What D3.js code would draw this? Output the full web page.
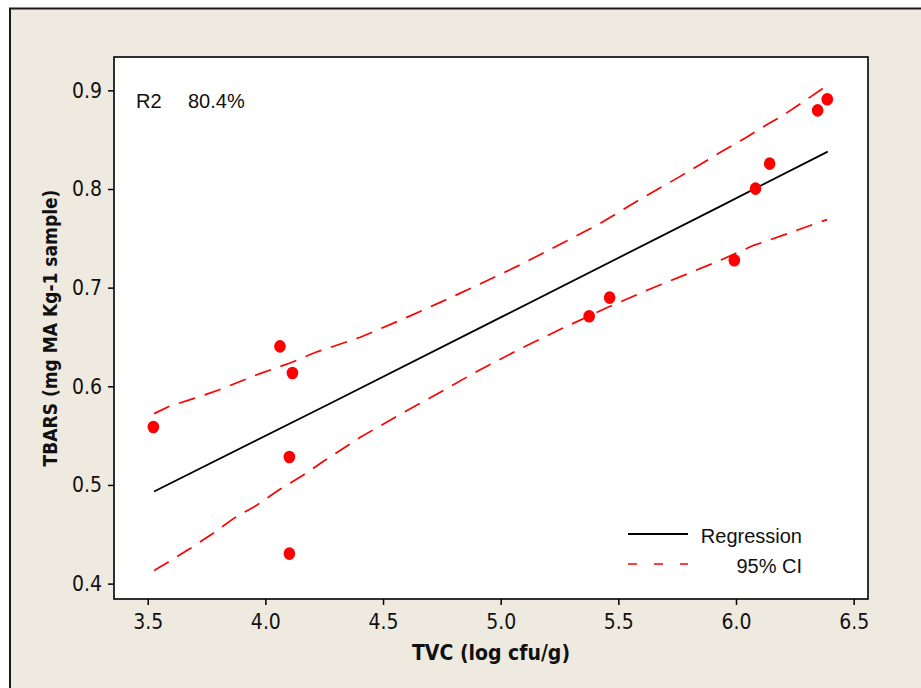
<!DOCTYPE html>
<html>
<head>
<meta charset="utf-8">
<script src="https://cdn.jsdelivr.net/npm/d3@7"></script>
<style>
  html, body { margin: 0; padding: 0; background: #ffffff; }
  svg { display: block; }
</style>
</head>
<body>
<div id="chart"></div>
<script>
// ---- Data ----
const tvc   = [3.524, 4.062, 4.115, 4.102, 4.102, 5.376, 5.463, 5.993, 6.083, 6.143, 6.347, 6.388];
const tbars = [0.5588, 0.6405, 0.6135, 0.5284, 0.4304, 0.671, 0.6899, 0.7277, 0.8004, 0.8257, 0.8797, 0.8909];

const regX = [3.527, 4.275, 4.998, 5.933, 6.390];
const regY = [0.4933, 0.5825, 0.6696, 0.7824, 0.8379];

const upperX = [3.527, 3.595, 3.694, 3.799, 3.977, 4.105, 4.211, 4.403, 4.573, 4.743, 4.892, 5.083, 5.253, 5.423, 5.593, 5.763, 5.941, 6.040, 6.139, 6.188, 6.281, 6.377];
const upperY = [0.5723, 0.580, 0.5875, 0.596, 0.6129, 0.6236, 0.6342, 0.6497, 0.6669, 0.6851, 0.7014, 0.7231, 0.7439, 0.7652, 0.7895, 0.8128, 0.8382, 0.8517, 0.8663, 0.8729, 0.8875, 0.9033];

const lowerX = [3.527, 3.588, 3.680, 3.772, 3.864, 3.963, 4.055, 4.155, 4.247, 4.403, 4.573, 4.743, 4.892, 5.083, 5.260, 5.458, 5.622, 5.820, 5.926, 6.075, 6.139, 6.238, 6.344, 6.387];
const lowerY = [0.4132, 0.4219, 0.4355, 0.450, 0.4659, 0.4794, 0.4946, 0.5091, 0.524, 0.5483, 0.5716, 0.5939, 0.6142, 0.638, 0.6585, 0.6804, 0.6973, 0.7166, 0.727, 0.7429, 0.748, 0.7564, 0.7655, 0.769];

const xTicks = [3.5, 4.0, 4.5, 5.0, 5.5, 6.0, 6.5];
const yTicks = [0.4, 0.5, 0.6, 0.7, 0.8, 0.9];

const xTitle = "TVC (log cfu/g)";
const yTitle = "TBARS (mg MA Kg-1 sample)";
const r2Label = "R2";
const r2Value = "80.4%";
const legendItems = ["Regression", "95% CI"];

// ---- Layout ----
const W = 921, H = 688;
const plot = { left: 114, top: 57, right: 868, bottom: 599 };

const svg = d3.select("#chart").append("svg").attr("width", W).attr("height", H);

// outer beige frame
svg.append("rect").attr("x", 10).attr("y", 8).attr("width", W).attr("height", H)
  .attr("fill", "#EEEAE0");
svg.append("line").attr("x1", 9).attr("x2", W).attr("y1", 8.5).attr("y2", 8.5)
  .attr("stroke", "#1a1a1a").attr("stroke-width", 2);
svg.append("line").attr("x1", 10).attr("x2", 10).attr("y1", 8).attr("y2", H)
  .attr("stroke", "#1a1a1a").attr("stroke-width", 2);

const x = d3.scaleLinear().domain([3.3567, 6.561]).range([plot.left, plot.right]);
const y = d3.scaleLinear().domain([0.3844, 0.9338]).range([plot.bottom, plot.top]);

// plot area
svg.append("rect").attr("x", plot.left).attr("y", plot.top)
  .attr("width", plot.right - plot.left).attr("height", plot.bottom - plot.top)
  .attr("fill", "#ffffff");

const tickFont = "'DejaVu Sans Condensed', 'Liberation Sans', sans-serif";

const xAxis = svg.append("g").attr("transform", `translate(0,${plot.bottom})`)
  .call(d3.axisBottom(x).tickValues(xTicks).tickFormat(d3.format(".1f")).tickSizeOuter(0).tickSize(6).tickPadding(9));
const yAxis = svg.append("g").attr("transform", `translate(${plot.left},0)`)
  .call(d3.axisLeft(y).tickValues(yTicks).tickFormat(d3.format(".1f")).tickSizeOuter(0).tickSize(6).tickPadding(6));
[xAxis, yAxis].forEach(a => {
  a.select(".domain").remove();
  a.selectAll(".tick line").attr("stroke", "#000").attr("stroke-width", 1.5);
  a.selectAll(".tick text").attr("fill", "#111").style("font-family", tickFont).style("font-size", "21px");
});

// lines
const line = d3.line().x(d => x(d[0])).y(d => y(d[1]));
const zip = (a, b) => a.map((v, i) => [v, b[i]]);

svg.append("path").datum(zip(upperX, upperY)).attr("d", line)
  .attr("fill", "none").attr("stroke", "#FF0000").attr("stroke-width", 1.7)
  .attr("stroke-dasharray", "17,10");
svg.append("path").datum(zip(lowerX, lowerY)).attr("d", line)
  .attr("fill", "none").attr("stroke", "#FF0000").attr("stroke-width", 1.7)
  .attr("stroke-dasharray", "17,10");
svg.append("path").datum(zip(regX, regY)).attr("d", line)
  .attr("fill", "none").attr("stroke", "#000").attr("stroke-width", 1.8);

// points
svg.append("g").selectAll("ellipse").data(zip(tvc, tbars)).join("ellipse")
  .attr("cx", d => x(d[0])).attr("cy", d => y(d[1]))
  .attr("rx", 5.8).attr("ry", 6.3).attr("fill", "#FF0000");

// plot frame
svg.append("rect").attr("x", plot.left).attr("y", plot.top)
  .attr("width", plot.right - plot.left).attr("height", plot.bottom - plot.top)
  .attr("fill", "none").attr("stroke", "#000").attr("stroke-width", 1.6);

// R2 annotation
const labelFont = "'Liberation Sans', Arial, sans-serif";
svg.append("text").attr("x", 136).attr("y", 108).text(r2Label)
  .style("font-family", labelFont).style("font-size", "20px").attr("fill", "#111");
svg.append("text").attr("x", 188).attr("y", 108).text(r2Value)
  .style("font-family", labelFont).style("font-size", "20px").attr("fill", "#111");

// legend
svg.append("line").attr("x1", 628).attr("x2", 688).attr("y1", 534).attr("y2", 534)
  .attr("stroke", "#000").attr("stroke-width", 1.8);
svg.append("text").attr("x", 802).attr("y", 543).attr("text-anchor", "end").text(legendItems[0])
  .style("font-family", labelFont).style("font-size", "20px").attr("fill", "#111");
svg.append("line").attr("x1", 628).attr("x2", 688).attr("y1", 564).attr("y2", 564)
  .attr("stroke", "#FF0000").attr("stroke-width", 1.7).attr("stroke-dasharray", "9,17");
svg.append("text").attr("x", 802).attr("y", 573).attr("text-anchor", "end").text(legendItems[1])
  .style("font-family", labelFont).style("font-size", "20px").attr("fill", "#111");

// axis titles
const titleFont = "'DejaVu Sans Condensed', 'DejaVu Sans', sans-serif";
svg.append("text").attr("x", (plot.left + plot.right) / 2).attr("y", 660)
  .attr("text-anchor", "middle").text(xTitle)
  .style("font-family", titleFont).style("font-weight", "bold").style("font-size", "21px").attr("fill", "#111");
svg.append("text").attr("transform", `translate(57,${(plot.top + plot.bottom) / 2}) rotate(-90)`)
  .attr("text-anchor", "middle").text(yTitle)
  .style("font-family", titleFont).style("font-weight", "bold").style("font-size", "19px").attr("fill", "#111");
</script>
</body>
</html>
